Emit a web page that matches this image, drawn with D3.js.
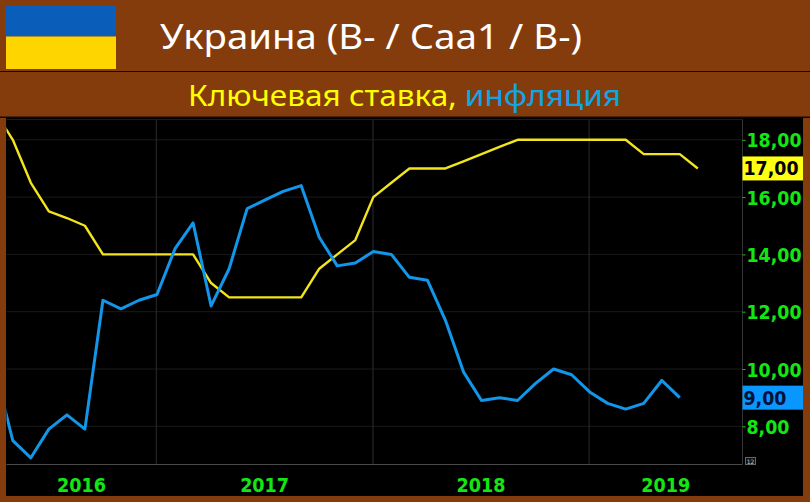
<!DOCTYPE html>
<html><head><meta charset="utf-8">
<script src="https://cdn.jsdelivr.net/npm/d3@7/dist/d3.min.js"></script>
<style>html,body{margin:0;padding:0;background:#843C0C}svg{display:block}</style>
</head><body><svg id="c" width="810" height="502"></svg>
<script>
const titleText = "Украина (B- / Caa1 / B-)";
const subtitleYellow = "Ключевая ставка,";
const subtitleBlue = "инфляция";
// monthly index: -1 = first (clipped) point
const firstIndex = -1;
const keyRate = [19,18,16.5,15.5,15.27,15,14,14,14,14,14,14,13,12.5,12.5,12.5,12.5,12.5,13.5,14,14.5,16,16.5,17,17,17,17.25,17.5,17.75,18,18,18,18,18,18,18,17.5,17.5,17.5,17];
const inflation = [10,7.5,6.9,7.9,8.4,7.9,12.4,12.1,12.4,12.6,14.2,15.1,12.2,13.5,15.6,15.9,16.2,16.4,14.6,13.6,13.7,14.1,14,13.2,13.1,11.7,9.9,8.9,9,8.9,9.5,10,9.8,9.2,8.8,8.6,8.8,9.6,9];
const yearBoundaries = [7.96,19.98,31.97];
const yearLabels = ["2016","2017","2018","2019"];
const yTicks = [8,10,12,14,16,18];

const svg = d3.select("#c");
const plot = {l:6.5,r:742.5,t:119.5,b:464.5};
const x = d3.scaleLinear().domain([-0.35,40.48]).range([plot.l,plot.r]);
const y = d3.scaleLinear().domain([18,8]).range([139.8,426.3]);
const fmt = v => d3.format(".2f")(v).replace(".",",");
const numWidth = s => s.length === 5 ? 55 : 43;
const numFont = "'DejaVu Sans',sans-serif";

svg.append("rect").attr("width",810).attr("height",502).attr("fill","#843C0C");
// flag
svg.append("rect").attr("x",6).attr("y",6).attr("width",110).attr("height",30.5).attr("fill","#0A5DB8");
svg.append("rect").attr("x",6).attr("y",36.5).attr("width",110).attr("height",32.5).attr("fill","#FFD500");
// separators
svg.append("rect").attr("x",0).attr("y",71).attr("width",810).attr("height",1).attr("fill","#120802");
svg.append("rect").attr("x",6).attr("y",117).attr("width",797).attr("height",379).attr("fill","#000");
svg.append("rect").attr("x",0).attr("y",116.5).attr("width",810).attr("height",1.5).attr("fill","#120802");

svg.append("text").attr("x",160).attr("y",48.5).attr("fill","#fff")
  .attr("font-family","'Noto Sans','Open Sans',sans-serif").attr("font-size",35)
  .attr("textLength",422).attr("lengthAdjust","spacingAndGlyphs").text(titleText);
const sub = svg.append("text").attr("x",188).attr("y",106)
  .attr("font-family","'Noto Sans','Open Sans',sans-serif").attr("font-size",29.5)
  .attr("textLength",433).attr("lengthAdjust","spacingAndGlyphs");
sub.append("tspan").attr("fill","#FFFF00").text(subtitleYellow+" ");
sub.append("tspan").attr("fill","#12A5E6").text(subtitleBlue);

// grid
const g = svg.append("g");
g.selectAll(".h").data(yTicks).join("line")
  .attr("x1",plot.l).attr("x2",plot.r).attr("y1",d=>y(d)).attr("y2",d=>y(d))
  .attr("stroke","#1a1a1a").attr("stroke-width",1);
g.selectAll(".v").data(yearBoundaries).join("line")
  .attr("x1",d=>x(d)).attr("x2",d=>x(d)).attr("y1",plot.t).attr("y2",plot.b)
  .attr("stroke","#2c2c2c").attr("stroke-width",1);
g.append("line").attr("x1",plot.l).attr("x2",plot.r).attr("y1",plot.t).attr("y2",plot.t).attr("stroke","#1c1c1c");
g.append("line").attr("x1",plot.l).attr("x2",plot.r).attr("y1",plot.b).attr("y2",plot.b).attr("stroke","#4a4a4a");
g.append("line").attr("x1",plot.r).attr("x2",plot.r).attr("y1",plot.t).attr("y2",plot.b).attr("stroke","#333");

svg.append("clipPath").attr("id","pc").append("rect").attr("x",plot.l).attr("y",plot.t)
  .attr("width",plot.r-plot.l).attr("height",plot.b-plot.t);
const line = d3.line().x((d,i)=>x(firstIndex+i)).y(d=>y(d));
const lines = svg.append("g").attr("clip-path","url(#pc)");
lines.append("path").datum(keyRate).attr("d",line).attr("fill","none").attr("stroke","#F2E51C").attr("stroke-width",2.4).attr("stroke-linejoin","round");
lines.append("path").datum(inflation).attr("d",line).attr("fill","none").attr("stroke","#1296EA").attr("stroke-width",3).attr("stroke-linejoin","round");

// y axis
const axisG = svg.append("g").attr("transform",`translate(${plot.r},0)`)
  .call(d3.axisRight(y).tickValues(yTicks).tickFormat(fmt).tickSize(3).tickPadding(1));
axisG.select(".domain").remove();
axisG.selectAll("line").attr("stroke","#14C814");
axisG.selectAll("text").attr("fill","#14E614").attr("font-family",numFont)
  .attr("font-weight","bold").attr("font-size",19.5).attr("dy","0.36em")
  .attr("textLength",d=>numWidth(fmt(d))).attr("lengthAdjust","spacingAndGlyphs");

// last value badges
const badges = [
 {v:keyRate[keyRate.length-1],c:"#FFFF14",t:"#000"},
 {v:inflation[inflation.length-1],c:"#0A96FF",t:"#02123a"}];
const b = svg.append("g").selectAll("g").data(badges).join("g")
  .attr("transform",d=>`translate(${plot.r},${y(d.v)})`);
b.append("rect").attr("x",0).attr("y",-12).attr("width",60.5).attr("height",24).attr("fill",d=>d.c);
b.append("text").attr("x",1).attr("y",7).attr("fill",d=>d.t).attr("font-family",numFont)
  .attr("font-weight","bold").attr("font-size",19.5)
  .attr("textLength",d=>numWidth(fmt(d.v))).attr("lengthAdjust","spacingAndGlyphs").text(d=>fmt(d.v));

// year labels between boundaries
const edges = [x.domain()[0],...yearBoundaries,x.domain()[1]];
svg.append("g").selectAll("text").data(yearLabels).join("text")
  .attr("x",(d,i)=>x((edges[i]+edges[i+1])/2)).attr("y",492).attr("text-anchor","middle")
  .attr("fill","#14E614").attr("font-family",numFont).attr("font-weight","bold").attr("font-size",19.5)
  .attr("textLength",49).attr("lengthAdjust","spacingAndGlyphs")
  .text(d=>d);

// small corner icon
svg.append("rect").attr("x",745.5).attr("y",457.5).attr("width",10).attr("height",7).attr("fill","#111").attr("stroke","#666");
svg.append("text").attr("x",750.5).attr("y",463.5).attr("text-anchor","middle").attr("fill","#ccc")
  .attr("font-family",numFont).attr("font-size",6).text("12");
</script></body></html>
